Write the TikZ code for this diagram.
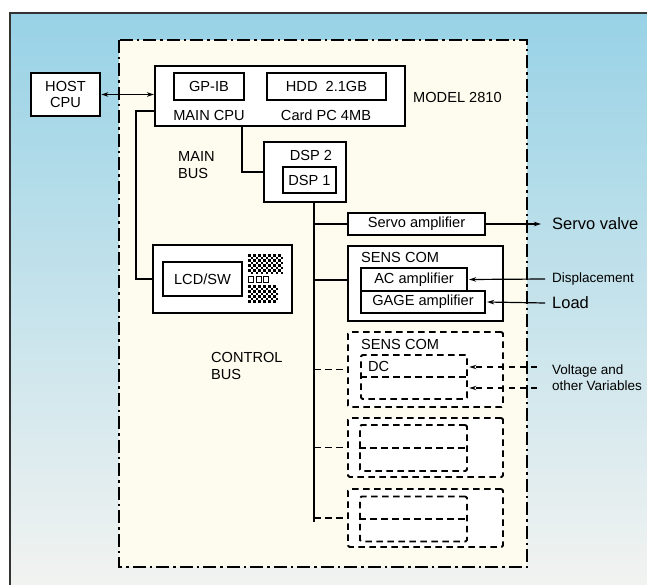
\documentclass[tikz,border=0pt]{standalone}
\usepackage{fontspec}
\setmainfont{Liberation Sans}
\usetikzlibrary{arrows.meta}
\definecolor{bgtop}{RGB}{152,210,230}
\definecolor{bgmid}{RGB}{196,225,235}
\definecolor{bgbot}{RGB}{242,243,241}
\definecolor{cream}{RGB}{253,252,238}
\begin{document}
\begin{tikzpicture}[x=1pt,y=-1pt,
  txt/.style={inner sep=0pt,font=\fontsize{14.6}{16.5}\selectfont},
  bigtxt/.style={inner sep=0pt,font=\fontsize{16.5}{19}\selectfont},
  smalltxt/.style={inner sep=0pt,font=\fontsize{13.5}{16}\selectfont},
  box/.style={draw,fill=white,line width=2pt,inner sep=0pt,font=\fontsize{14.6}{16.5}\selectfont},
  thickbox/.style={box,line width=2.7pt},
  ibox/.style={draw,fill=white,line width=1.2pt,inner sep=0pt,font=\fontsize{14.6}{16.5}\selectfont},
  dbox/.style={draw,fill=white,line width=1.8pt,dash pattern=on 6.5pt off 4.5pt,rounded corners=1.5pt,inner sep=0pt},
  bus/.style={line width=2.7pt},
  branch/.style={line width=2pt},
  dbranch/.style={line width=1.7pt,dash pattern=on 6.5pt off 4.5pt},
  arr/.style={line width=1.2pt,-{Stealth[length=7pt,width=4.5pt]}},
  darr/.style={line width=1.5pt,dash pattern=on 6.5pt off 4.5pt,-{Stealth[length=7pt,width=4.5pt]}},
  dblarr/.style={line width=1.2pt,{Stealth[length=7pt,width=4.5pt]}-{Stealth[length=7pt,width=4.5pt]}},
  dashdot/.style={line width=2pt,dash pattern=on 13pt off 4pt on 2.5pt off 4pt}]
\useasboundingbox (0,0) rectangle (647,585);
% background
\shade[top color=bgtop,middle color=bgmid,bottom color=bgbot] (10,13) rectangle (647,585);
\draw[line width=1.5pt,black!80] (10,585) -- (10,13) -- (647,13);
% model frame
\draw[dashdot,fill=cream] (119,40) rectangle (527,567);

% host and main cpu
\node[thickbox,minimum width=69pt,minimum height=43pt,align=center] (host) at (65.5,94.5) {HOST\\CPU};
\node[box,minimum width=250pt,minimum height=60pt] (maincpu) at (280,96) {};
\node[ibox,minimum width=70pt,minimum height=27pt] (gpib) at (209,86.5) {GP-IB};
\node[ibox,minimum width=119pt,minimum height=27pt] (hdd) at (326.5,86.5) {HDD\ \ 2.1GB};
\node[txt] (mcputxt) at (209,115) {MAIN CPU};
\node[txt] (cardtxt) at (326,115) {Card PC 4MB};
\node[txt,anchor=west] (model) at (413,97) {MODEL 2810};
\node[txt,anchor=west,align=left] (mainbus) at (178,165) {MAIN\\BUS};

% DSP
\node[box,minimum width=82pt,minimum height=60pt] (dsp2) at (305,172) {};
\node[txt] (dsp2txt) at (311,155) {DSP 2};
\node[ibox,minimum width=53pt,minimum height=26pt] (dsp1) at (309.5,180) {DSP 1};

% LCD
\node[box,line width=2.3pt,minimum width=139pt,minimum height=68pt] (lcd) at (222.5,279) {};
\node[ibox,minimum width=79pt,minimum height=34pt] (lcdsw) at (202.5,279) {LCD/SW};
\foreach \i in {0,...,13}{\foreach \j in {0,...,7}{%
  \ifodd\numexpr\i+\j\relax\else
    \fill (248+2.5*\i,254+2.5*\j) rectangle ++(2.5,2.5);
  \fi}}
\foreach \i in {0,...,11}{\foreach \j in {0,...,6}{%
  \ifodd\numexpr\i+\j\relax\else
    \fill (248+2.5*\i,285+2.5*\j) rectangle ++(2.5,2.5);
  \fi}}
\foreach \k in {0,1,2}{\draw[line width=1pt] (248.5+7.5*\k,276.5) rectangle ++(5,5.5);}
\node[txt,anchor=west,align=left] (ctrlbus) at (211,366) {CONTROL\\BUS};

% servo
\node[box,minimum width=137pt,minimum height=22pt] (servo) at (416.5,224) {Servo amplifier};
\node[bigtxt,anchor=west] (sv) at (552,224) {Servo valve};

% sens com
\node[box,minimum width=155pt,minimum height=75pt] (senscom) at (425.5,283.5) {};
\node[txt,anchor=west] (senstxt) at (361,257) {SENS COM};
\node[ibox,minimum width=106pt,minimum height=23pt] (ac) at (414,279.5) {AC amplifier};
\node[ibox,minimum width=124pt,minimum height=22pt] (gage) at (423,302) {GAGE amplifier};
\node[smalltxt,anchor=west] (disp) at (552,279) {Displacement};
\node[bigtxt,anchor=west] (load) at (552,303) {Load};

% optional dashed modules
\node[dbox,minimum width=155pt,minimum height=75pt] (opt1) at (425.5,369.5) {};
\node[txt,anchor=west] (opt1txt) at (361,344) {SENS COM};
\node[dbox,minimum width=106pt,minimum height=44pt] (dc) at (414,377) {};
\draw[dbranch] (dc.west) -- (dc.east);
\node[txt,anchor=west] (dctxt) at (368,366) {DC};
\node[smalltxt,anchor=west,align=left] (volt) at (552,378) {Voltage and\\other Variables};
\coordinate (vin1) at (537,367);
\coordinate (vin2) at (537,388);

\node[dbox,minimum width=155pt,minimum height=59pt] (opt2) at (425.5,447.5) {};
\node[dbox,minimum width=107pt,minimum height=46pt] (in2) at (413.5,448) {};
\draw[dbranch] (in2.west) -- (in2.east);

\node[dbox,minimum width=155pt,minimum height=58pt] (opt3) at (425.5,518) {};
\node[dbox,minimum width=107pt,minimum height=45pt] (in3) at (413.5,519) {};
\draw[dbranch] (in3.west) -- (in3.east);

% main bus
\coordinate (mbt) at (136,111);
\draw[bus] (maincpu.west |- mbt) -- (mbt) |- (lcd.west);
\draw[bus] ([xshift=-38pt]maincpu.south) |- (dsp2.west);
% control bus
\coordinate (cbb) at (314,522);
\draw[bus] (dsp2.south -| cbb) -- (cbb);
\draw[branch] (cbb |- servo.west) -- (servo.west);
\draw[branch] (cbb |- ac.west) -- (ac.west -| senscom.west);
\draw[dbranch] (cbb |- opt1.west) -- (opt1.west);
\draw[dbranch] (cbb |- opt2.west) -- (opt2.west);
\draw[dbranch] (cbb |- opt3.west) -- (opt3.west);

% arrows
\draw[dblarr] (host.east) -- (host.east -| maincpu.west);
\draw[arr] (servo.east) -- ([xshift=-11pt]sv.west);
\draw[arr] ([xshift=-7pt]disp.west) -- ([xshift=1.5pt]ac.east);
\draw[arr] ([xshift=-7pt]load.west) -- ([xshift=1.5pt]gage.east);
\draw[darr] (vin1) -- ([xshift=1.5pt]vin1 -| dc.east);
\draw[darr] (vin2) -- ([xshift=1.5pt]vin2 -| dc.east);
\end{tikzpicture}
\end{document}
